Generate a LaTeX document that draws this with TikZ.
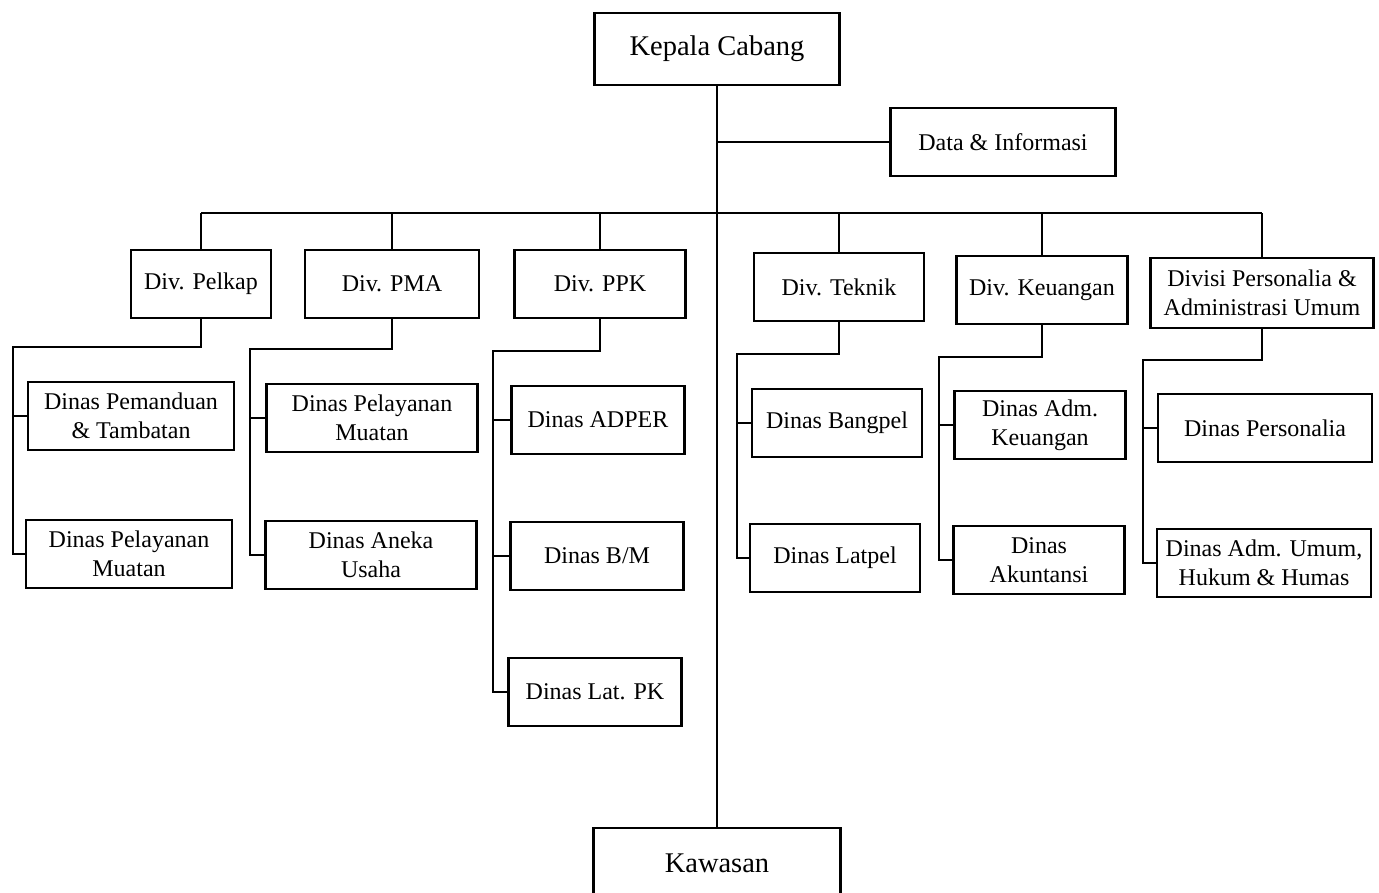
\documentclass[tikz,border=0pt]{standalone}
\usepackage{fontspec}
\setmainfont{Liberation Serif}
\usetikzlibrary{positioning}

\begin{document}
\begin{tikzpicture}[x=1pt,y=-1pt,
line width=2.7pt,
box/.style={draw,line width=2.7pt,inner sep=0pt,align=center,minimum height=68pt,
  font=\fontsize{24}{29}\selectfont},
topbox/.style={box,minimum height=72pt,font=\fontsize{28.5}{32}\selectfont}
]
\useasboundingbox (0,0) rectangle (1379,893);
% top
\node[topbox,minimum width=245pt] (kc) at (717,49) {Kepala Cabang};
\node[box,minimum width=225pt] (di) at (1003,142) {Data \& Informasi};
\node[topbox,minimum width=247pt,minimum height=70pt] (kw) at (717,863) {Kawasan};
% divisions
\node[box,minimum width=140pt] (pelkap) at (201,284) {Div. Pelkap};
\node[box,minimum width=174pt] (pma) at (392,284) {Div. PMA};
\node[box,minimum width=171pt] (ppk) at (600,284) {Div. PPK};
\node[box,minimum width=170pt] (teknik) at (839,287) {Div. Teknik};
\node[box,minimum width=171pt] (keu) at (1042,290) {Div. Keuangan};
\node[box,minimum width=223pt,minimum height=70pt] (pers) at (1262,293) {Divisi Personalia \&\\Administrasi Umum};
% dinas
\node[box,minimum width=206pt] (pemandu) at (131,416) {Dinas Pemanduan\\\& Tambatan};
\node[box,minimum width=206pt] (muatan) at (129,554) {Dinas Pelayanan\\Muatan};
\node[box,minimum width=211pt] (pelmuat) at (372,418) {Dinas Pelayanan\\Muatan};
\node[box,minimum width=211pt] (aneka) at (371,555) {Dinas Aneka\\Usaha};
\node[box,minimum width=173pt] (adper) at (598,420) {Dinas ADPER};
\node[box,minimum width=173pt] (bm) at (597,556) {Dinas B/M};
\node[box,minimum width=173pt] (latpk) at (595,692) {Dinas Lat. PK};
\node[box,minimum width=170pt] (bangpel) at (837,423) {Dinas Bangpel};
\node[box,minimum width=170pt] (latpel) at (835,558) {Dinas Latpel};
\node[box,minimum width=171pt] (admkeu) at (1040,425) {Dinas Adm.\\Keuangan};
\node[box,minimum width=171pt] (akun) at (1039,560) {Dinas\\Akuntansi};
\node[box,minimum width=214pt] (dpers) at (1265,428) {Dinas Personalia};
\node[box,minimum width=214pt] (admum) at (1264,563) {Dinas Adm. Umum,\\Hukum \& Humas};
% trunk
\coordinate (bus) at (717,213);
\draw (kc.south) -- (kw.north);
\draw (kc.south |- di.west) -- (di.west);
\draw (pelkap.north |- bus) -- (pers.north |- bus);
\foreach \d in {pelkap,pma,ppk,teknik,keu,pers}
  \draw (\d.north) -- (\d.north |- bus);
% branches
\coordinate (c1) at (13,347);
\coordinate (c2) at (250,349);
\coordinate (c3) at (493,351);
\coordinate (c4) at (737,354);
\coordinate (c5) at (939,357);
\coordinate (c6) at (1143,360);
\draw (pelkap.south) |- (c1) |- (muatan.west);
\draw (c1 |- pemandu.west) -- (pemandu.west);
\draw (pma.south) |- (c2) |- (aneka.west);
\draw (c2 |- pelmuat.west) -- (pelmuat.west);
\draw (ppk.south) |- (c3) |- (latpk.west);
\draw (c3 |- adper.west) -- (adper.west);
\draw (c3 |- bm.west) -- (bm.west);
\draw (teknik.south) |- (c4) |- (latpel.west);
\draw (c4 |- bangpel.west) -- (bangpel.west);
\draw (keu.south) |- (c5) |- (akun.west);
\draw (c5 |- admkeu.west) -- (admkeu.west);
\draw (pers.south) |- (c6) |- (admum.west);
\draw (c6 |- dpers.west) -- (dpers.west);
\end{tikzpicture}
\end{document}
